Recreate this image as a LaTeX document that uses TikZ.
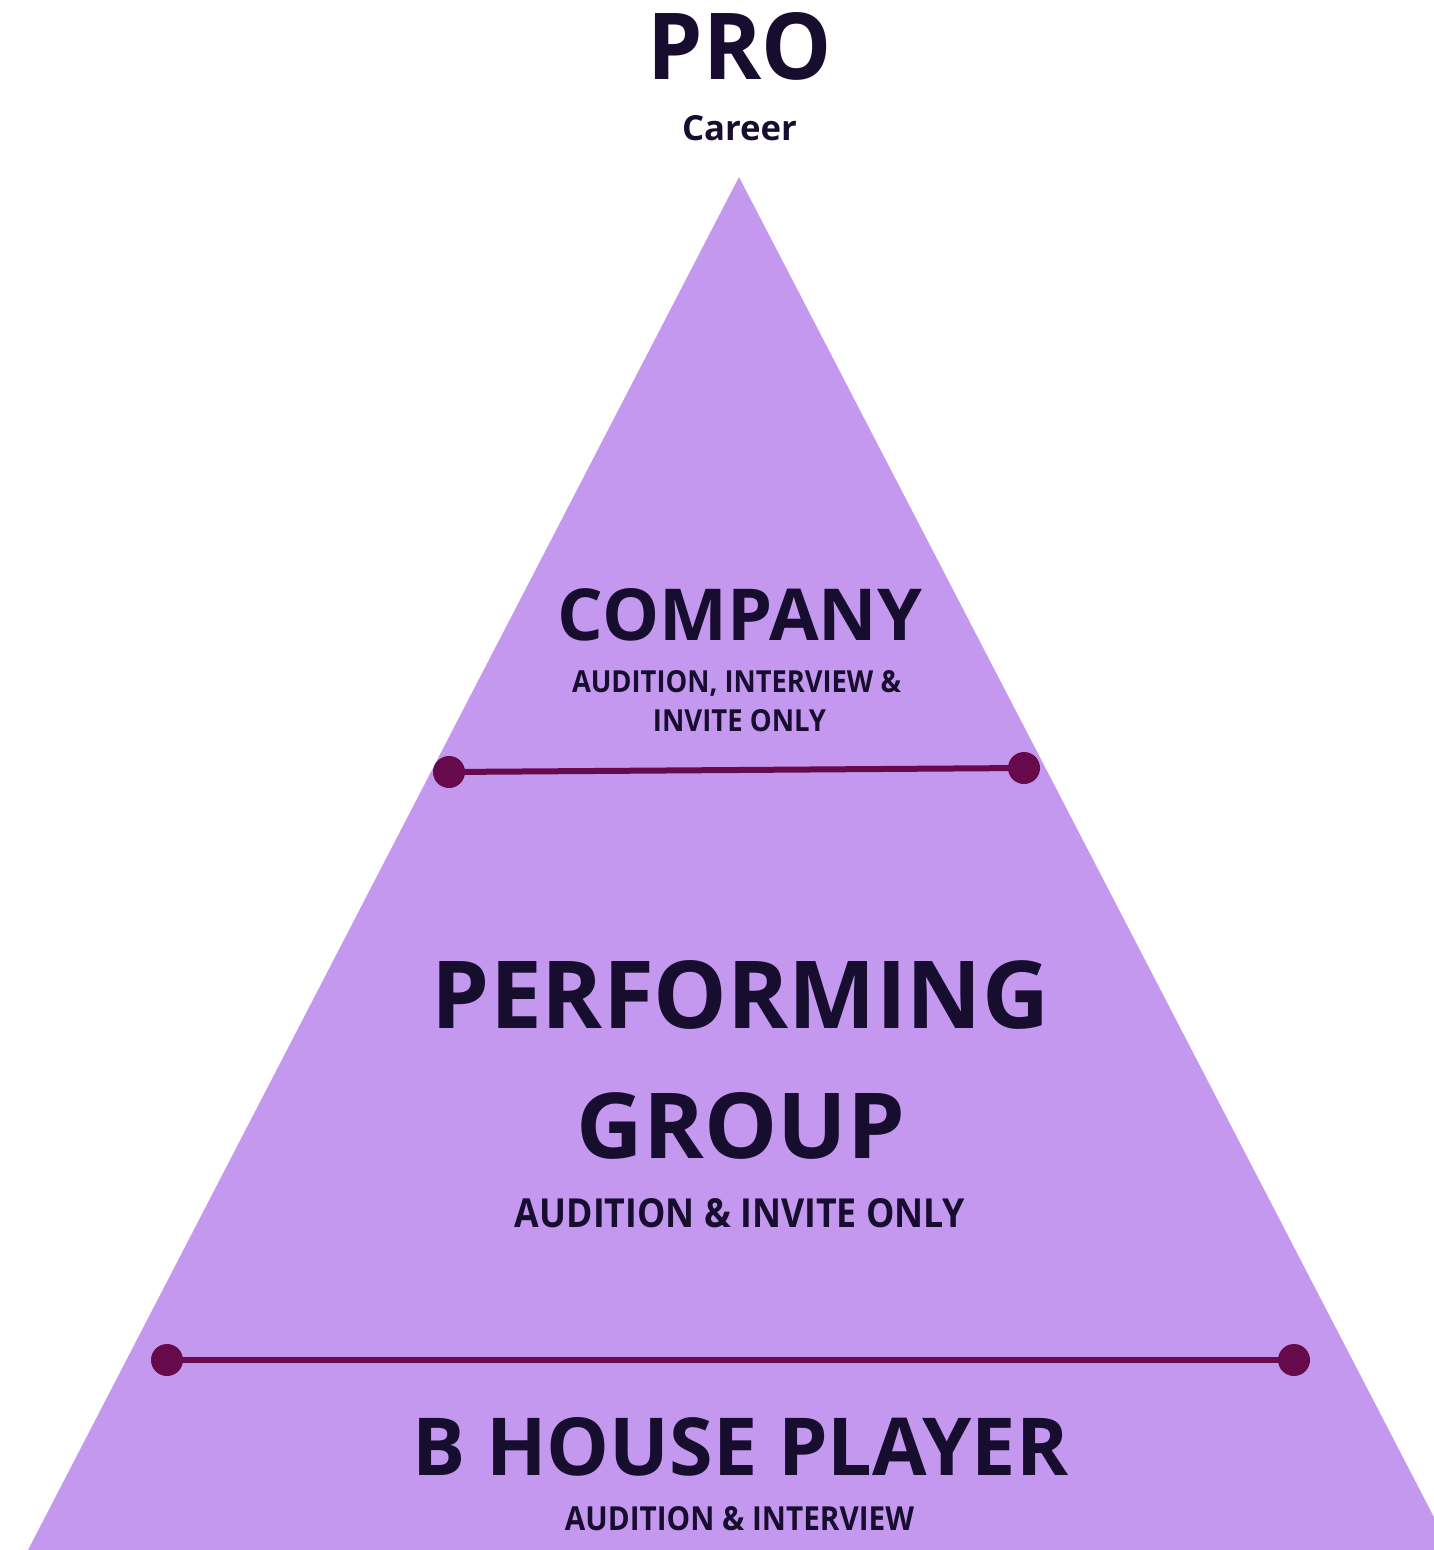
\documentclass[tikz,border=0pt]{standalone}
\usepackage{fontspec}
\usepackage{graphicx}
\setmainfont{Open Sans}
\definecolor{pyr}{HTML}{C498EE}
\definecolor{linec}{HTML}{660A4C}
\definecolor{txt}{HTML}{170D2E}
\begin{document}
\begin{tikzpicture}[x=1bp,y=-1bp,
  lbl/.style={anchor=base,inner sep=0pt,text=txt,font=\bfseries},
  dot/.style={circle,fill=linec,minimum size=32bp,inner sep=0pt},
  bar/.style={draw=linec,line width=6bp}]
\useasboundingbox (0,0) rectangle (1434,1550);
\clip (0,0) rectangle (1434,1550);
\fill[pyr] (739,177) -- (1451,1550) -- (28,1550) -- cycle;
% connectors
\node[dot] (d1) at (449,772) {};
\node[dot] (d2) at (1024,768) {};
\node[dot] (d3) at (167,1360) {};
\node[dot] (d4) at (1294,1360) {};
\draw[bar] (d1.center) -- (d2.center);
\draw[bar] (d3.center) -- (d4.center);
% texts
\node[lbl] (pro) at (740,80) {\resizebox{184bp}{67bp}{PRO}};
\node[lbl] (career) at (739.5,140) {\resizebox{115bp}{25bp}{Career}};
\node[lbl] (comp) at (740,640) {\resizebox{364bp}{52bp}{COMPANY}};
\node[lbl] (comp1) at (736.5,692) {\resizebox{329bp}{22bp}{AUDITION, INTERVIEW \&}};
\node[lbl] (comp2) at (739.5,731) {\resizebox{173bp}{22bp}{INVITE ONLY}};
\node[lbl] (perf) at (740.5,1028) {\resizebox{617bp}{68bp}{PERFORMING}};
\node[lbl] (grp) at (741,1158) {\resizebox{328bp}{66bp}{GROUP}};
\node[lbl] (perf1) at (740,1227) {\resizebox{450bp}{29bp}{AUDITION \& INVITE ONLY}};
\node[lbl] (bh) at (740.5,1475) {\resizebox{655bp}{58bp}{B HOUSE PLAYER}};
\node[lbl] (bh1) at (739.5,1530) {\resizebox{349bp}{24bp}{AUDITION \& INTERVIEW}};
\end{tikzpicture}
\end{document}
